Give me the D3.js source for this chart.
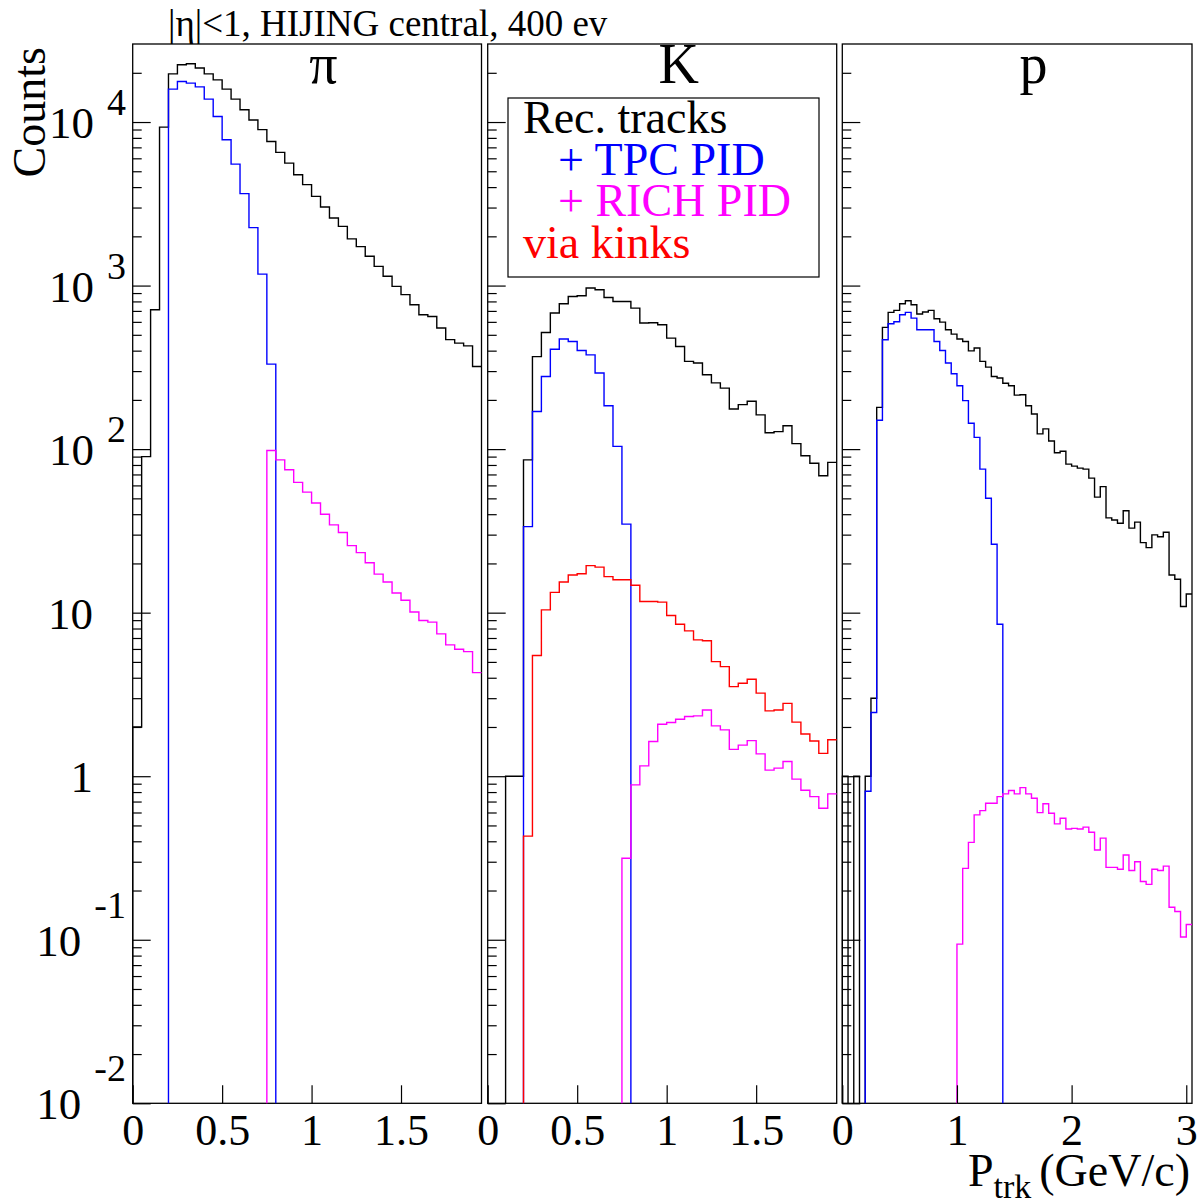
<!DOCTYPE html>
<html>
<head>
<meta charset="utf-8">
<script src="https://cdn.jsdelivr.net/npm/d3@7"></script>
<style>
  body { margin: 0; background: #fff; }
  text { font-family: "Liberation Serif", "Times New Roman", serif; }
</style>
</head>
<body>
<svg id="chart" width="1200" height="1203"></svg>
<script>
// bins are 0.05 GeV/c wide, starting at 0
const binWidth = 0.05;
const species = ['π', 'K', 'p'];
const xMax = [1.95, 1.95, 3.05];
const xTicks = [[0, 0.5, 1, 1.5], [0, 0.5, 1, 1.5], [0, 1, 2, 3]];
const yExponents = [-2, -1, 0, 1, 2, 3, 4];
const legendLabels = ['Rec. tracks', '+ TPC PID', '+ RICH PID', 'via kinks'];
const seriesColors = ['#000000', '#0000ff', '#ff00ff', '#ff0000'];

// pions
const piRec = [2.0, 90, 711, 9310, 19700, 22400, 22700, 21400, 19700, 18100, 15900, 13800, 11900, 10300, 8980,
  7610, 6520, 5610, 4760, 4140, 3510, 3020, 2590, 2300, 1930, 1730, 1510, 1310, 1140, 989,
  880, 764, 663, 647, 550, 467, 445, 428, 320];
const piTpc = [0, 0, 0, 0, 15900, 17700, 17300, 16400, 13800, 10800, 7800, 5530, 3650, 2260, 1175,
  331, 0, 0, 0, 0, 0, 0, 0, 0, 0, 0, 0, 0, 0, 0,
  0, 0, 0, 0, 0, 0, 0, 0, 0];
const piRich = [0, 0, 0, 0, 0, 0, 0, 0, 0, 0, 0, 0, 0, 0, 0,
  98, 86, 74.8, 62.6, 54.6, 46.8, 40.0, 34.4, 30.9, 25.7, 23.3, 20.2, 17.2, 15.4, 13.2,
  11.9, 10.1, 8.95, 8.75, 7.42, 6.35, 5.98, 5.78, 4.3];
const piKink = [0, 0, 0, 0, 0, 0, 0, 0, 0, 0, 0, 0, 0, 0, 0,
  0, 0, 0, 0, 0, 0, 0, 0, 0, 0, 0, 0, 0, 0, 0,
  0, 0, 0, 0, 0, 0, 0, 0, 0];

// kaons
const kRec = [0, 0, 1, 1, 86, 368, 516, 679, 774, 858, 866, 966, 942, 846, 799,
  799, 728, 590, 592, 576, 477, 424, 344, 336, 285, 254, 236, 176, 187, 196,
  162, 126, 128, 139, 108, 91, 82, 68.7, 83];
const kTpc = [0, 0, 0, 0, 33.6, 170, 278, 408, 471, 455, 401, 377, 292, 184, 104,
  34.8, 0, 0, 0, 0, 0, 0, 0, 0, 0, 0, 0, 0, 0, 0,
  0, 0, 0, 0, 0, 0, 0, 0, 0];
const kRich = [0, 0, 0, 0, 0, 0, 0, 0, 0, 0, 0, 0, 0, 0, 0,
  0.315, 0.885, 1.156, 1.63, 2.08, 2.13, 2.23, 2.32, 2.34, 2.54, 2.03, 1.92, 1.46, 1.55, 1.65,
  1.37, 1.09, 1.12, 1.23, 0.96, 0.82, 0.75, 0.637, 0.78];
const kKink = [0, 0, 0, 0, 0.43, 5.47, 10.4, 13.3, 15.4, 17.0, 17.3, 19.4, 19.0, 16.6, 15.9,
  15.9, 14.7, 11.7, 11.7, 11.6, 9.6, 8.5, 7.74, 6.82, 6.73, 5.02, 4.68, 3.53, 3.70, 3.92,
  3.22, 2.51, 2.54, 2.79, 2.14, 1.81, 1.64, 1.38, 1.67];

// protons
const pRec = [1, 0, 1, 0, 1, 3.0, 180, 555, 686, 705, 774, 808, 763, 670, 689,
  705, 627, 598, 537, 505, 471, 455, 399, 415, 344, 317, 278, 272, 253, 244,
  214, 215, 184, 164, 124, 133, 112, 95, 97, 81, 78.7, 76.5, 75.5, 66.5, 50.9,
  59.0, 38.0, 36.9, 35.2, 42.0, 32.9, 35.8, 26.8, 25.0, 29.9, 29.1, 31.0, 17.0, 16.0, 10.9,
  13.0];
const pTpc = [0, 0, 0, 0, 0.81, 2.45, 150, 466, 584, 601, 663, 686, 632, 537, 537,
  537, 455, 401, 336, 289, 244, 198, 144, 118, 75.5, 50.1, 26.2, 8.5, 0, 0,
  0, 0, 0, 0, 0, 0, 0, 0, 0, 0, 0, 0, 0, 0, 0,
  0, 0, 0, 0, 0, 0, 0, 0, 0, 0, 0, 0, 0, 0, 0,
  0];
const pRich = [0, 0, 0, 0, 0, 0, 0, 0, 0, 0, 0, 0, 0, 0, 0,
  0, 0, 0, 0, 0, 0.094, 0.273, 0.394, 0.58, 0.616, 0.684, 0.684, 0.75, 0.78, 0.817,
  0.78, 0.851, 0.78, 0.733, 0.599, 0.678, 0.594, 0.511, 0.553, 0.476, 0.48, 0.476, 0.488, 0.454, 0.354,
  0.418, 0.277, 0.277, 0.27, 0.33, 0.265, 0.30, 0.227, 0.218, 0.27, 0.265, 0.282, 0.158, 0.149, 0.104,
  0.124];
const pKink = [0, 0, 0, 0, 0, 0, 0, 0, 0, 0, 0, 0, 0, 0, 0,
  0, 0, 0, 0, 0, 0, 0, 0, 0, 0, 0, 0, 0, 0, 0,
  0, 0, 0, 0, 0, 0, 0, 0, 0, 0, 0, 0, 0, 0, 0,
  0, 0, 0, 0, 0, 0, 0, 0, 0, 0, 0, 0, 0, 0, 0,
  0];

const panelSeries = [
  [piRec, piTpc, piRich, piKink],
  [kRec, kTpc, kRich, kKink],
  [pRec, pTpc, pRich, pKink]
];

// layout
const frameTop = 44;
const frameBottom = 1103.3;
const panelLeft = [132.7, 487.7, 842.3];
const panelRight = [481.5, 836.7, 1192];

const svg = d3.select('#chart');
svg.append('rect').attr('width', 1200).attr('height', 1203).attr('fill', '#fff');

const y = d3.scaleLog().domain([0.01, 30000]).range([frameBottom, frameTop]);

const minorTicks = [];
yExponents.forEach((e) => {
  for (let m = 2; m <= 9; m++) {
    const v = m * Math.pow(10, e);
    if (v < y.domain()[1]) minorTicks.push(v);
  }
});
const majorTicks = yExponents.map((e) => Math.pow(10, e));

// step outline; empty bins are not drawn, edges drop to the frame bottom
function histPath(vals, x) {
  const p = d3.path();
  const bottom = y.range()[0];
  vals.forEach((v, i) => {
    if (!(v > 0)) return;
    const xl = x(i * binWidth);
    const xr = x((i + 1) * binWidth);
    const yv = y(v);
    if (i === 0 || !(vals[i - 1] > 0)) {
      p.moveTo(xl, bottom);
    }
    p.lineTo(xl, yv);
    p.lineTo(xr, yv);
    if (i < vals.length - 1 && !(vals[i + 1] > 0)) {
      p.lineTo(xr, bottom);
    }
  });
  return p.toString();
}

species.forEach((name, pi) => {
  const x = d3.scaleLinear().domain([0, xMax[pi]]).range([panelLeft[pi], panelRight[pi]]);
  const g = svg.append('g').attr('class', 'panel');

  g.append('clipPath').attr('id', 'clip' + pi)
    .append('rect')
    .attr('x', panelLeft[pi] - 1).attr('y', frameTop)
    .attr('width', panelRight[pi] - panelLeft[pi] + 2)
    .attr('height', frameBottom - frameTop + 1);

  g.append('rect')
    .attr('x', panelLeft[pi]).attr('y', frameTop)
    .attr('width', panelRight[pi] - panelLeft[pi])
    .attr('height', frameBottom - frameTop)
    .attr('fill', 'none')
    .attr('stroke', '#000')
    .attr('stroke-width', 1.3);

  g.append('g').attr('clip-path', `url(#clip${pi})`)
    .selectAll('path')
    .data(panelSeries[pi])
    .join('path')
    .attr('d', (d) => histPath(d, x))
    .attr('fill', 'none')
    .attr('stroke', (d, i) => seriesColors[i])
    .attr('stroke-width', 1.4);

  // y ticks point into the frame
  const yMajAxis = g.append('g')
    .attr('transform', `translate(${panelLeft[pi]},0)`)
    .call(d3.axisLeft(y).tickValues(majorTicks).tickSize(-18).tickFormat(''));
  const yMinAxis = g.append('g')
    .attr('transform', `translate(${panelLeft[pi]},0)`)
    .call(d3.axisLeft(y).tickValues(minorTicks).tickSize(-9).tickFormat(''));
  [yMajAxis, yMinAxis].forEach((a) => {
    a.select('.domain').remove();
    a.selectAll('line').attr('stroke', '#000').attr('stroke-width', 1.2);
  });

  const xAxis = g.append('g')
    .attr('transform', `translate(0,${frameBottom})`)
    .call(d3.axisBottom(x).tickValues(xTicks[pi]).tickSize(-18).tickPadding(10).tickFormat((d) => d));
  xAxis.select('.domain').remove();
  xAxis.selectAll('line').attr('stroke', '#000').attr('stroke-width', 1.2);
  xAxis.selectAll('text')
    .attr('font-size', 44)
    .attr('fill', '#000');

  g.append('text')
    .attr('x', panelLeft[pi] + 0.547 * (panelRight[pi] - panelLeft[pi]))
    .attr('y', 83)
    .attr('text-anchor', 'middle')
    .attr('font-size', 56)
    .text(name);
});

// y tick labels, first panel only
const yLab = svg.append('g').attr('font-size', 45);
yExponents.forEach((e) => {
  const v = Math.pow(10, e);
  const t = yLab.append('text').attr('y', y(v) + 16).attr('text-anchor', 'end');
  if (e === 0 || e === 1) {
    t.attr('x', 93).text(e === 0 ? '1' : '10');
  } else {
    t.attr('x', 126);
    t.append('tspan').text('10');
    t.append('tspan')
      .attr('dx', 13)
      .attr('dy', e < 0 ? -38 : -23)
      .attr('font-size', 38)
      .text(String(e));
  }
});

// legend inside the K panel
const leg = svg.append('g');
leg.append('rect')
  .attr('x', 508).attr('y', 98).attr('width', 311).attr('height', 179)
  .attr('fill', '#fff').attr('stroke', '#000').attr('stroke-width', 1.2);
leg.selectAll('text')
  .data(legendLabels)
  .join('text')
  .attr('x', (d) => (d.startsWith('+') ? 558 : 523))
  .attr('y', (d, i) => 133 + i * 41.7)
  .attr('font-size', 46)
  .attr('fill', (d, i) => seriesColors[i])
  .attr('xml:space', 'preserve')
  .text((d) => d);

// titles
svg.append('text')
  .attr('x', 168).attr('y', 36)
  .attr('font-size', 37)
  .text('|η|<1, HIJING central, 400 ev');

svg.append('text')
  .attr('transform', 'translate(45,47) rotate(-90)')
  .attr('text-anchor', 'end')
  .attr('font-size', 46)
  .text('Counts');

const xt = svg.append('text')
  .attr('x', 1190).attr('y', 1186)
  .attr('text-anchor', 'end')
  .attr('font-size', 46);
xt.append('tspan').text('P');
xt.append('tspan').attr('dy', 12).attr('font-size', 34).text('trk');
xt.append('tspan').attr('dy', -12).attr('dx', 8).text('(GeV/c)');
</script>
</body>
</html>
